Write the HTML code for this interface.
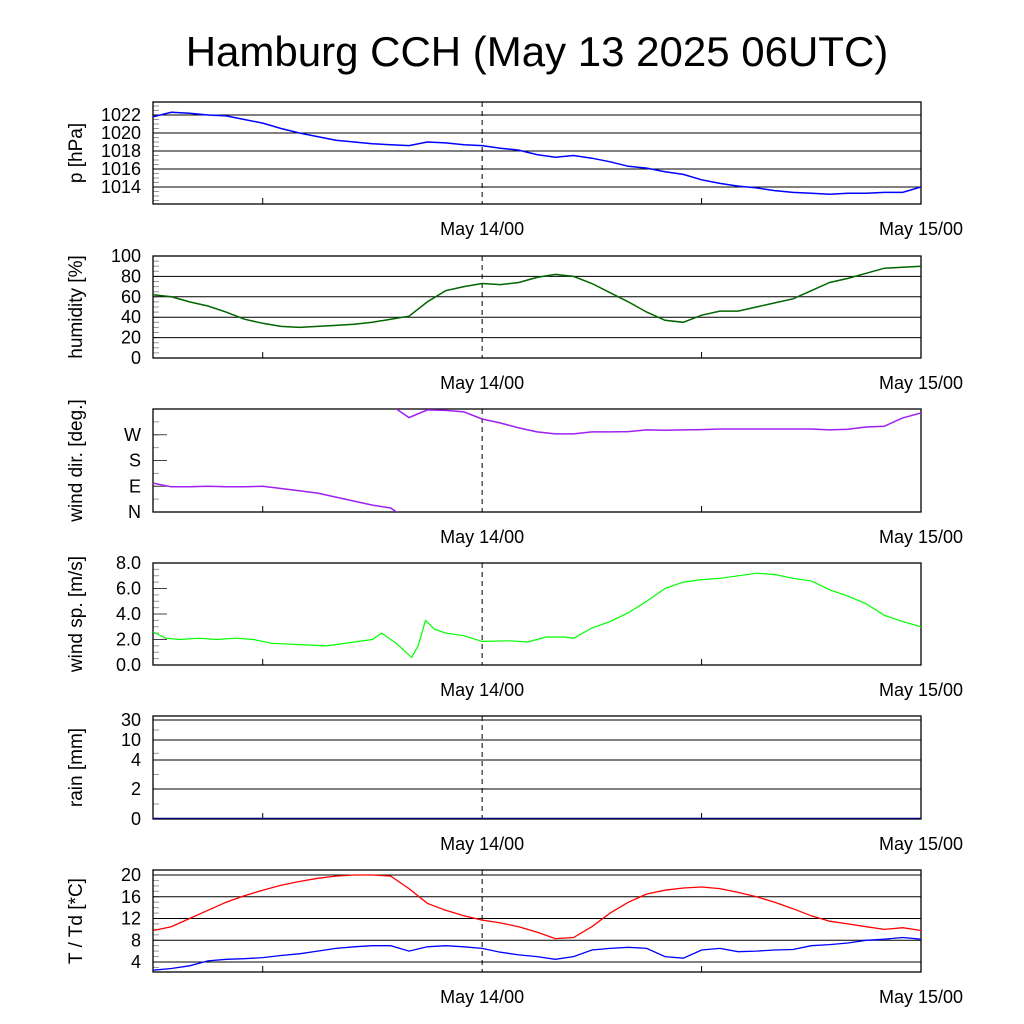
<!DOCTYPE html>
<html><head><meta charset="utf-8"><style>
body{margin:0;background:#fff}
svg{display:block;font-family:"Liberation Sans",sans-serif}
</style></head><body>
<svg id="chart" width="1024" height="1024" viewBox="0 0 1024 1024">
<rect width="1024" height="1024" fill="#fff"/>
<text x="537" y="66" font-size="42" text-anchor="middle">Hamburg CCH (May 13 2025 06UTC)</text>
</svg>
<script>
const hours = [0,1,2,3,4,5,6,7,8,9,10,11,12,13,14,15,16,17,18,19,20,21,22,23,24,25,26,27,28,29,30,31,32,33,34,35,36,37,38,39,40,41,42];
const pressure = [1021.8,1022.3,1022.2,1022.0,1021.9,1021.5,1021.1,1020.5,1020.0,1019.6,1019.2,1019.0,1018.8,1018.7,1018.6,1019.0,1018.9,1018.7,1018.6,1018.3,1018.1,1017.6,1017.3,1017.5,1017.2,1016.8,1016.3,1016.1,1015.7,1015.4,1014.8,1014.4,1014.1,1013.9,1013.6,1013.4,1013.3,1013.2,1013.3,1013.3,1013.4,1013.4,1014.0];
const humidity = [62,60,55,51,45,38,34,31,30,31,32,33,35,38,41,55,66,70,73,72,74,79,82,80,73,64,55,45,37,35,42,46,46,50,54,58,66,74,78,83,88,89,90];
const windDir = [101,88,88,90,88,88,90,82,74,66,52,38,24,14,330,357,355,350,325,311,294,280,273,273,280,280,281,287,286,287,288,290,290,290,290,290,290,287,289,297,300,329,346];
const windTimes = [0,0.7,1.5,2.5,3.5,4.5,5.5,6.5,8,9.5,11,12,12.5,13.3,14.15,14.5,14.9,15.4,16,17,18,19.5,20.5,21.5,22.5,23,24,25,26,27,28,29,30,31,32,33,34,35,36,37,38,39,40,41,42];
const windSpeed = [2.6,2.1,2.0,2.1,2.0,2.1,2.0,1.7,1.6,1.5,1.8,2.0,2.5,1.7,0.6,1.5,3.5,2.8,2.5,2.3,1.85,1.9,1.8,2.2,2.2,2.1,2.9,3.4,4.1,5.0,6.0,6.5,6.7,6.8,7.0,7.2,7.1,6.8,6.6,5.9,5.4,4.8,3.9,3.4,3.0];
const rain = hours.map(()=>0);
const temp = [9.8,10.5,12,13.5,15,16.2,17.2,18.1,18.8,19.4,19.8,20.0,20.0,19.8,17.5,14.8,13.5,12.5,11.7,11.2,10.5,9.5,8.3,8.5,10.5,13,15,16.5,17.2,17.6,17.8,17.5,16.8,16.0,15.0,13.8,12.5,11.5,11.0,10.5,10.0,10.3,9.8];
const dew = [2.5,2.8,3.3,4.2,4.5,4.6,4.8,5.2,5.5,6.0,6.5,6.8,7.0,7.0,6.0,6.8,7.0,6.8,6.5,5.8,5.3,5.0,4.5,5.0,6.2,6.5,6.7,6.5,5.0,4.7,6.2,6.5,5.9,6.0,6.2,6.3,7.0,7.2,7.5,8.0,8.2,8.5,8.2];
const pTicks = [1014,1016,1018,1020,1022];
const hTicks = [0,20,40,60,80,100];
const dirTicks = [0,90,180,270];
const dirLabels = ['N','E','S','W'];
const wsTicks = [0,2,4,6,8];
const rainTicks = [0,2,4,10,30];
const tTicks = [4,8,12,16,20];
const xLabels = ['May 14/00','May 15/00'];
const xLabelHours = [18,42];

const NS='http://www.w3.org/2000/svg';
const svg=document.getElementById('chart');
const X0=153,X1=921;
const xs=h=>X0+h*(X1-X0)/42;
function mk(tag,attrs,parent){const e=document.createElementNS(NS,tag);for(const k in attrs)e.setAttribute(k,attrs[k]);(parent||svg).appendChild(e);return e;}
function lin(d0,d1,p0,p1){return v=>p0+(v-d0)*(p1-p0)/(d1-d0);}
function piece(dv,pv){return v=>{for(let i=0;i<dv.length-1;i++){if(v<=dv[i+1])return pv[i]+(v-dv[i])*(pv[i+1]-pv[i])/(dv[i+1]-dv[i]);}return pv[pv.length-1];};}

function panel(name,top,bot,title,ys,ticks,labels,grid,minor){
  const g=mk('g',{});
  
  
  const cid='clip-'+name;
  const cp=mk('clipPath',{id:cid},g);mk('rect',{x:X0,y:top,width:X1-X0,height:bot-top},cp);
  // minor ticks
  if(minor){for(const v of minor){const y=ys(v);if(y<top||y>bot)continue;mk('line',{x1:X0,x2:X0+6,y1:y,y2:y,stroke:'#999','stroke-width':1},g);}}
  ticks.forEach((v,i)=>{const y=ys(v);
    if(grid){const l=mk('line',{x1:X0,x2:X1,y1:y,y2:y,stroke:'#000','stroke-width':1},g);}
    else{mk('line',{x1:X0,x2:X0+14,y1:y,y2:y,stroke:'#444','stroke-width':1},g);}
    const t=mk('text',{x:X0-12,y:y+6,'font-size':18,'text-anchor':'end'},g);t.textContent=labels[i];
    
    
  });
  mk('line',{x1:xs(18),x2:xs(18),y1:top,y2:bot,stroke:'#000','stroke-dasharray':'5,4'},g);
  for(const h of [6,30]){mk('line',{x1:xs(h),x2:xs(h),y1:bot,y2:bot-6,stroke:'#000'},g);}
  mk('rect',{x:X0,y:top,width:X1-X0,height:bot-top,fill:'none',stroke:'#000','stroke-width':1.3},g);
  const tt=mk('text',{x:0,y:0,'font-size':19,'text-anchor':'middle',transform:`translate(82,${(top+bot)/2}) rotate(-90)`},g);tt.textContent=title;
  
  
  xLabelHours.forEach((h,i)=>{const t=mk('text',{x:xs(h),y:bot+31,'font-size':18,'text-anchor':'middle'},g);t.textContent=xLabels[i];
    
    });
  return {g,cid};
}
function line(p,name,ts,vals,ys,color,w){
  const pts=ts.map((t,i)=>xs(t).toFixed(1)+','+ys(vals[i]).toFixed(1)).join(' ');
  const l=mk('polyline',{points:pts,fill:'none',stroke:color,'stroke-width':w||1.5,'clip-path':`url(#${p.cid})`},p.g);
  
  
}
function rng(a,b,s){const r=[];for(let v=a;v<=b+1e-9;v+=s)r.push(v);return r;}

// pressure
let ys=lin(1014,1022,187,115);
let p=panel('pressure',102,204,'p [hPa]',ys,pTicks,pTicks.map(String),true,rng(1012.5,1023.5,0.5));
line(p,'pressure-line',hours,pressure,ys,'#0000ff');
// humidity
ys=lin(0,100,358,256);
p=panel('humidity',256,358,'humidity [%]',ys,hTicks,hTicks.map(String),true,rng(0,100,5));
line(p,'humidity-line',hours,humidity,ys,'#006400');
// wind dir
ys=lin(0,360,512,409);
p=panel('wind-dir',409,512,'wind dir. [deg.]',ys,dirTicks,dirLabels,false,rng(0,360,45));
{let seg=[[hours[0],windDir[0]]];const segs=[];
 for(let i=1;i<hours.length;i++){const a=windDir[i-1],b=windDir[i];
  if(Math.abs(b-a)>180){const b2=b>a?b-360:b+360;seg.push([hours[i],b2]);segs.push(seg);seg=[[hours[i-1],b>a?a+360:a-360],[hours[i],b]];}
  else seg.push([hours[i],b]);}
 segs.push(seg);
 segs.forEach(s=>line(p,'wind-direction-line',s.map(q=>q[0]),s.map(q=>q[1]),ys,'#a020f0'));}
// wind speed
ys=lin(0,8,665,563);
p=panel('wind-speed',563,665,'wind sp. [m/s]',ys,wsTicks,wsTicks.map(v=>v.toFixed(1)),false,rng(0,8,0.5));
line(p,'wind-speed-line',windTimes,windSpeed,ys,'#00ff00',1.2);
// rain
ys=piece([0,2,4,10,30],[819,789,760,740,720]);
p=panel('rain',716,819,'rain [mm]',ys,rainTicks,rainTicks.map(String),true,[1,3,6,20]);
line(p,'rain-line',hours,rain,ys,'#000080',2.5);
// temperature
ys=lin(4,20,962,875);
p=panel('temperature',870,972,'T / Td [*C]',ys,tTicks,tTicks.map(String),true,rng(3,20,1));
line(p,'temperature-line',hours,temp,ys,'#ff0000',1.3);
line(p,'dewpoint-line',hours,dew,ys,'#0000ff',1.3);
</script>
</body></html>
